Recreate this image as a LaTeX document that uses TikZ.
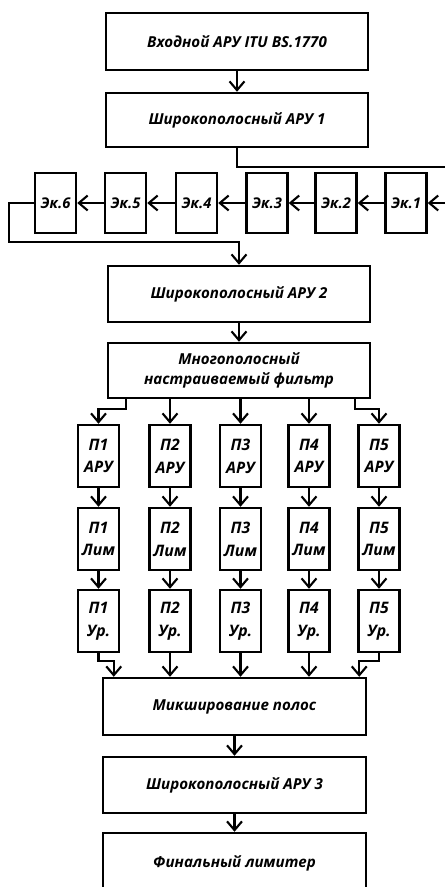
\documentclass[tikz,border=0pt]{standalone}
\usepackage{fontspec}
\setmainfont{Open Sans}
\usepackage{tikz}
\usetikzlibrary{arrows.meta, positioning, calc}

\begin{document}
\begin{tikzpicture}[
    block/.style={rectangle, draw, line width=1.4pt, minimum width=5.24cm, minimum height=1.12cm, font=\fontsize{8.6}{11}\selectfont\bfseries\itshape},
    cell/.style={rectangle, draw, line width=1.4pt, minimum width=0.82cm, minimum height=1.2cm, inner sep=1pt, font=\fontsize{8.4}{11}\selectfont\bfseries\itshape},
    band/.style={cell, minimum height=1.24cm, align=center, font=\fontsize{9}{13}\selectfont\bfseries\itshape},
    rel/.style={-{Straight Barb[length=5pt, width=8.5pt, line width=1.2pt]}, line width=1.4pt}
]
\useasboundingbox (0,0) rectangle (8.9,-17.74);
\clip (0,0) rectangle (8.9,-17.74);

\node[block, minimum height=1.14cm] (input) at (4.74,-0.83) {Входной АРУ ITU BS.1770};
\node[block, minimum height=1.08cm] (wide1) at (4.74,-2.40) {Широкополосный АРУ 1};

\node[cell] (ek1) at (8.12,-4.06) {Эк.1};
\node[cell] (ek2) at (6.72,-4.06) {Эк.2};
\node[cell] (ek3) at (5.34,-4.06) {Эк.3};
\node[cell] (ek4) at (3.93,-4.06) {Эк.4};
\node[cell] (ek5) at (2.51,-4.06) {Эк.5};
\node[cell] (ek6) at (1.11,-4.06) {Эк.6};

\node[block] (wide2) at (4.78,-5.88) {Широкополосный АРУ 2};
\node[block, minimum height=1.10cm, align=center] (filter) at (4.78,-7.41) {Многополосный\\настраиваемый фильтр};

\node[band] (agc1) at (1.97,-9.12) {П1\\АРУ};
\node[band] (agc2) at (3.40,-9.12) {П2\\АРУ};
\node[band] (agc3) at (4.81,-9.12) {П3\\АРУ};
\node[band] (agc4) at (6.18,-9.12) {П4\\АРУ};
\node[band] (agc5) at (7.58,-9.12) {П5\\АРУ};

\node[band] (lim1) at (1.97,-10.78) {П1\\Лим};
\node[band] (lim2) at (3.40,-10.78) {П2\\Лим};
\node[band] (lim3) at (4.81,-10.78) {П3\\Лим};
\node[band] (lim4) at (6.18,-10.78) {П4\\Лим};
\node[band] (lim5) at (7.58,-10.78) {П5\\Лим};

\node[band] (lvl1) at (1.97,-12.42) {П1\\Ур.};
\node[band] (lvl2) at (3.40,-12.42) {П2\\Ур.};
\node[band] (lvl3) at (4.81,-12.42) {П3\\Ур.};
\node[band] (lvl4) at (6.18,-12.42) {П4\\Ур.};
\node[band] (lvl5) at (7.58,-12.42) {П5\\Ур.};

\node[block, minimum width=5.26cm, minimum height=1.14cm] (mix) at (4.69,-14.13) {Микширование полос};
\node[block, minimum width=5.26cm] (wide3) at (4.69,-15.70) {Широкополосный АРУ 3};
\node[block, minimum width=5.26cm, minimum height=1.2cm] (final) at (4.69,-17.26) {Финальный лимитер};

\draw[rel] (input) -- (wide1);
\draw[rel] (wide1.south) -- ++(0,-0.38) -- ++(4.56,0) |- (ek1.east);
\draw[rel] (ek1) -- (ek2);
\draw[rel] (ek2) -- (ek3);
\draw[rel] (ek3) -- (ek4);
\draw[rel] (ek4) -- (ek5);
\draw[rel] (ek5) -- (ek6);
\draw[rel] (ek6.west) -- ++(-0.5,0) -- ++(0,-0.78) -| (wide2.north);
\draw[rel] (wide2) -- (filter);

\draw[rel] ($(filter.south)+(-2.26,0)$) -- ++(0,-0.2) -| (agc1.north);
\draw[rel] (filter.south -| agc2.north) -- (agc2.north);
\draw[rel] (filter.south -| agc3.north) -- (agc3.north);
\draw[rel] (filter.south -| agc4.north) -- (agc4.north);
\draw[rel] ($(filter.south)+(2.32,0)$) -- ++(0,-0.2) -| (agc5.north);

\draw[rel] (agc1) -- (lim1);
\draw[rel] (agc2) -- (lim2);
\draw[rel] (agc3) -- (lim3);
\draw[rel] (agc4) -- (lim4);
\draw[rel] (agc5) -- (lim5);
\draw[rel] (lim1) -- (lvl1);
\draw[rel] (lim2) -- (lvl2);
\draw[rel] (lim3) -- (lvl3);
\draw[rel] (lim4) -- (lvl4);
\draw[rel] (lim5) -- (lvl5);

\draw[rel] (lvl1.south) -- ++(0,-0.16) -| ($(mix.north west)+(0.24,0)$);
\draw[rel] (lvl2.south) -- (lvl2.south |- mix.north);
\draw[rel] (lvl3.south) -- (lvl3.south |- mix.north);
\draw[rel] (lvl4.south) -- (lvl4.south |- mix.north);
\draw[rel] (lvl5.south) -- ++(0,-0.16) -| ($(mix.north east)+(-0.16,0)$);

\draw[rel] (mix) -- (wide3);
\draw[rel] (wide3) -- (final);
\end{tikzpicture}
\end{document}
